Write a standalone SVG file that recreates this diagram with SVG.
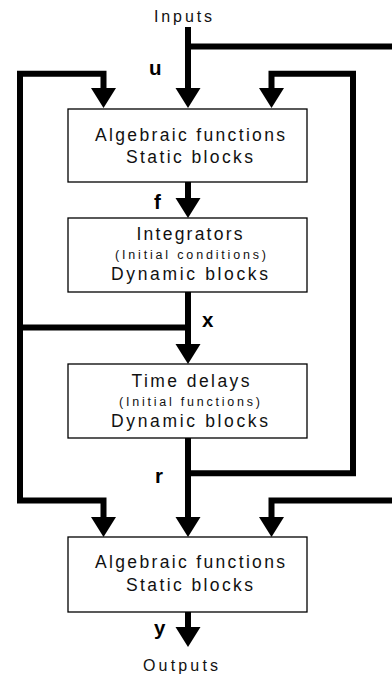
<svg xmlns="http://www.w3.org/2000/svg" width="392" height="675" viewBox="0 0 392 675">
<style>
.box{fill:#fff;stroke:#000;stroke-width:1.3}
.t{font-family:"Liberation Sans",Arial,sans-serif;font-size:17.5px;fill:#111}
.s{font-family:"Liberation Sans",Arial,sans-serif;font-size:12.5px;fill:#111}
.io{font-family:"Liberation Sans",Arial,sans-serif;font-size:16px;fill:#111}
.lb{font-family:"Liberation Sans",Arial,sans-serif;font-size:20.5px;font-weight:bold;fill:#000}
.c{fill:none;stroke:#000;stroke-width:6;stroke-linejoin:miter;stroke-linecap:butt}
</style>
<defs>
<marker id="arr" viewBox="0 -13 20 26" refX="0" refY="0" markerWidth="20" markerHeight="26" markerUnits="userSpaceOnUse" orient="auto" overflow="visible">
<path d="M-1,-12.5 L19,0 L-1,12.5 Z" fill="#000"/>
</marker>
</defs>
<g id="connectors">
<path class="c" d="M188,27 V89" marker-end="url(#arr)"/>
<path class="c" d="M188,46.5 H396"/>
<path class="c" d="M20,327.5 V73.7 H103.5 V89" marker-end="url(#arr)"/>
<path class="c" d="M188,473.3 H353 V73.7 H271.5 V89" marker-end="url(#arr)"/>
<path class="c" d="M188,182 V199" marker-end="url(#arr)"/>
<path class="c" d="M188,292 V345" marker-end="url(#arr)"/>
<path class="c" d="M188,327.5 H20 V500.5 H103.5 V518" marker-end="url(#arr)"/>
<path class="c" d="M188,438 V518" marker-end="url(#arr)"/>
<path class="c" d="M396,500.5 H271.5 V518" marker-end="url(#arr)"/>
<path class="c" d="M188,612 V628" marker-end="url(#arr)"/>
</g>
<g id="labels">
<text class="io" x="154" y="22" textLength="58" lengthAdjust="spacing">Inputs</text>
<text class="lb" x="149" y="75">u</text>
<text class="lb" x="154" y="209">f</text>
<text class="lb" x="202" y="327">x</text>
<text class="lb" x="155" y="483">r</text>
<text class="lb" x="154" y="635">y</text>
<text class="io" x="143" y="671" textLength="75" lengthAdjust="spacing">Outputs</text>
</g>
<g id="static1">
<rect class="box" x="68" y="109" width="239" height="73"/>
<text class="t" x="95" y="140.5" textLength="190" lengthAdjust="spacing">Algebraic functions</text>
<text class="t" x="126" y="163" textLength="127" lengthAdjust="spacing">Static blocks</text>
</g>
<g id="integrators">
<rect class="box" x="68" y="218" width="239" height="74"/>
<text class="t" x="136.5" y="240" textLength="106" lengthAdjust="spacing">Integrators</text>
<text class="s" x="115" y="259" textLength="151" lengthAdjust="spacing">(Initial conditions)</text>
<text class="t" x="111" y="280" textLength="157" lengthAdjust="spacing">Dynamic blocks</text>
</g>
<g id="delays">
<rect class="box" x="68" y="364" width="239" height="74"/>
<text class="t" x="131.5" y="387" textLength="118" lengthAdjust="spacing">Time delays</text>
<text class="s" x="119" y="406" textLength="141" lengthAdjust="spacing">(Initial functions)</text>
<text class="t" x="111" y="427" textLength="157" lengthAdjust="spacing">Dynamic blocks</text>
</g>
<g id="static2">
<rect class="box" x="68" y="537" width="239" height="75"/>
<text class="t" x="95" y="568" textLength="190" lengthAdjust="spacing">Algebraic functions</text>
<text class="t" x="126" y="591" textLength="127" lengthAdjust="spacing">Static blocks</text>
</g>
</svg>
